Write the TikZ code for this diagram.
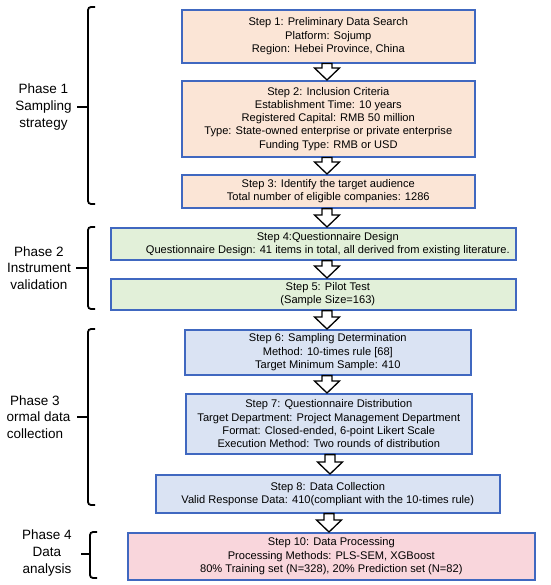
\documentclass[tikz,border=0pt]{standalone}
\usepackage{fontspec}
\setmainfont{Liberation Sans}
\usetikzlibrary{calc}
\definecolor{bordc}{HTML}{4068C0}
\definecolor{peach}{HTML}{FBE5D6}
\definecolor{lgreen}{HTML}{E2F0D9}
\definecolor{lblue}{HTML}{DAE3F3}
\definecolor{lpink}{HTML}{F9D6DC}
\tikzset{
  stepbox/.style={draw=bordc, line width=1.6pt, anchor=north west, align=center, inner sep=0pt,
    font=\fontsize{11.1}{13.3}\selectfont},
  phaselbl/.style={align=center, font=\fontsize{13.5}{16.8}\selectfont, inner sep=0pt},
  brk/.style={line width=1.8pt, rounded corners=3pt},
  blockarr/.style={draw=black, line width=1.3pt, fill=white}
}
\newcommand{\blockarrow}[3]{%
  \path let \p1=(#1.south), \p2=(#2.north) in
    [blockarr] (#3-5pt,\y1) -- (#3+5pt,\y1) -- (#3+5pt,{\y2+12pt}) -- (#3+12.5pt,{\y2+12pt})
    -- (#3,\y2) -- (#3-12.5pt,{\y2+12pt}) -- (#3-5pt,{\y2+12pt}) -- cycle;}
\newcommand{\sh}{\hspace*{29pt}}
\begin{document}
\begin{tikzpicture}[x=1pt,y=-1pt]
\useasboundingbox (0,0) rectangle (550,585);
\fill[white] (0,0) rectangle (550,585);
% boxes
\node[stepbox, fill=peach, minimum width=293pt, minimum height=53pt] (s1) at (181,9)
  {Step 1: Preliminary Data Search\\Platform: Sojump\\Region: Hebei Province, China};
\node[stepbox, fill=peach, minimum width=293pt, minimum height=76pt] (s2) at (181,80)
  {Step 2: Inclusion Criteria\\Establishment Time: 10 years\\Registered Capital: RMB 50 million\\Type: State-owned enterprise or private enterprise\\Funding Type: RMB or USD};
\node[stepbox, fill=peach, minimum width=293pt, minimum height=33pt] (s3) at (181,174)
  {Step 3: Identify the target audience\\Total number of eligible companies: 1286};
\node[stepbox, fill=lgreen, minimum width=405pt, minimum height=32pt] (s4) at (110,227)
  {\sh Step 4:Questionnaire Design\\\sh Questionnaire Design: 41 items in total, all derived from existing literature.};
\node[stepbox, fill=lgreen, minimum width=405pt, minimum height=31pt] (s5) at (110,278)
  {\sh Step 5: Pilot Test\\\sh (Sample Size=163)};
\node[stepbox, fill=lblue, minimum width=286pt, minimum height=45pt] (s6) at (184,329)
  {Step 6: Sampling Determination\\Method: 10-times rule [68]\\Target Minimum Sample: 410};
\node[stepbox, fill=lblue, minimum width=286pt, minimum height=60pt] (s7) at (185,393)
  {Step 7: Questionnaire Distribution\\Target Department: Project Management Department\\Format: Closed-ended, 6-point Likert Scale\\Execution Method: Two rounds of distribution};
\node[stepbox, fill=lblue, minimum width=344pt, minimum height=38pt] (s8) at (155,474)
  {Step 8: Data Collection\\Valid Response Data: 410(compliant with the 10-times rule)};
\node[stepbox, fill=lpink, minimum width=407pt, minimum height=47pt] (s10) at (127,532)
  {Step 10: Data Processing\\Processing Methods: PLS-SEM, XGBoost\\80\% Training set (N=328), 20\% Prediction set (N=82)};
% arrows
\blockarrow{s1}{s2}{327pt}
\blockarrow{s2}{s3}{327pt}
\blockarrow{s3}{s4}{327pt}
\blockarrow{s4}{s5}{327pt}
\blockarrow{s5}{s6}{327pt}
\blockarrow{s6}{s7}{327pt}
\blockarrow{s7}{s8}{330pt}
\blockarrow{s8}{s10}{329pt}
% phase labels
\node[phaselbl] (p1) at (43.5,107) {Phase 1\\Sampling\\strategy};
\node[phaselbl] (p2) at (39,268) {Phase 2\\Instrument\\validation};
\node[phaselbl] (p3) at (35,417) {Phase 3\\\hspace*{7pt}ormal data\\collection};
\node[phaselbl] (p4) at (47,553) {Phase 4\\Data\\analysis};
% brackets
\draw[brk] (95,7) -- (88,7) -- (88,204) -- (95,204);
\draw[line width=1.8pt] (77,107) -- (88,107);
\draw[brk] (95,227) -- (88,227) -- (88,309) -- (95,309);
\draw[line width=1.8pt] (76,268) -- (88,268);
\draw[brk] (95,329) -- (88,329) -- (88,505) -- (95,505);
\draw[line width=1.8pt] (77,417) -- (88,417);
\draw[brk] (97,532) -- (90,532) -- (90,578) -- (97,578);
\draw[line width=1.8pt] (81,554) -- (90,554);
\end{tikzpicture}
\end{document}
